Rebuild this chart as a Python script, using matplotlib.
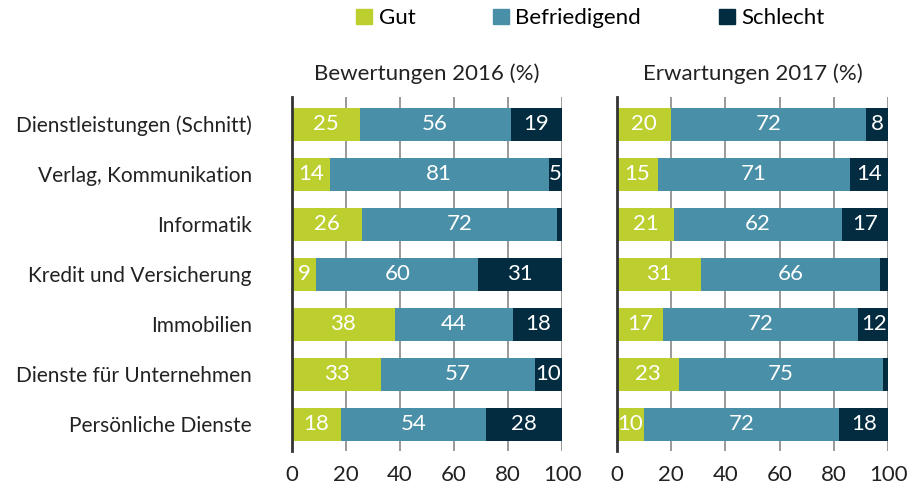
import numpy as np
import matplotlib
matplotlib.use("Agg")
import matplotlib.pyplot as plt
from matplotlib.patches import Patch

plt.rcParams['font.family'] = ['Lato', 'DejaVu Sans']

categories = ["Dienstleistungen (Schnitt)", "Verlag, Kommunikation", "Informatik",
              "Kredit und Versicherung", "Immobilien", "Dienste für Unternehmen",
              "Persönliche Dienste"]
series = ["Gut", "Befriedigend", "Schlecht"]
colors = ["#bccf2f", "#4a8fa8", "#032c40"]

gut_2016 = [25, 14, 26, 9, 38, 33, 18]
bef_2016 = [56, 81, 72, 60, 44, 57, 54]
sch_2016 = [19, 5, 2, 31, 18, 10, 28]

gut_2017 = [20, 15, 21, 31, 17, 23, 10]
bef_2017 = [72, 71, 62, 66, 72, 75, 72]
sch_2017 = [8, 14, 17, 3, 12, 2, 18]

titles = ["Bewertungen 2016 (%)", "Erwartungen 2017 (%)"]

fig = plt.figure(figsize=(9.14, 4.93), dpi=100)
ax1 = fig.add_axes([0.3195, 0.085, 0.2954, 0.718])
ax2 = fig.add_axes([0.675, 0.085, 0.2966, 0.718])

y = np.arange(len(categories))


def draw_panel(ax, data, title):
    left = np.zeros(len(categories))
    for vals, col in zip(data, colors):
        vals = np.array(vals, dtype=float)
        ax.barh(y, vals, left=left, height=0.66, color=col, zorder=3)
        for yi, (l, v) in enumerate(zip(left, vals)):
            if v >= 4:
                ax.text(l + v / 2, yi, str(int(v)), color="white",
                        ha="center", va="center", fontsize=16, zorder=4)
        left += vals
    ax.set_xlim(0, 100)
    ax.set_ylim(6.54, -0.54)
    ax.set_xticks([0, 20, 40, 60, 80, 100])
    ax.tick_params(axis='x', length=0, labelsize=16, colors="#222222", pad=10)
    ax.grid(axis='x', color="#888888", linewidth=1.2, zorder=1)
    for s in ["top", "right", "bottom"]:
        ax.spines[s].set_visible(False)
    ax.spines["left"].set_color("#333333")
    ax.spines["left"].set_linewidth(2)
    ax.spines["left"].set_zorder(5)
    ax.set_title(title, fontsize=16, color="#222222", pad=12)


draw_panel(ax1, [gut_2016, bef_2016, sch_2016], titles[0])
draw_panel(ax2, [gut_2017, bef_2017, sch_2017], titles[1])

ax1.set_yticks(y)
ax1.set_yticklabels(categories, fontsize=15, color="#222222")
ax1.tick_params(axis='y', length=0, pad=29)
ax2.set_yticks([])

handles = [Patch(color=c) for c in colors]
fig.legend(handles, series, loc="center", bbox_to_anchor=(0.646, 0.963), ncol=3,
           frameon=False, fontsize=16, handlelength=0.7, handleheight=0.7,
           handletextpad=0.3, columnspacing=3.5)

fig.savefig("out.png", dpi=100)
